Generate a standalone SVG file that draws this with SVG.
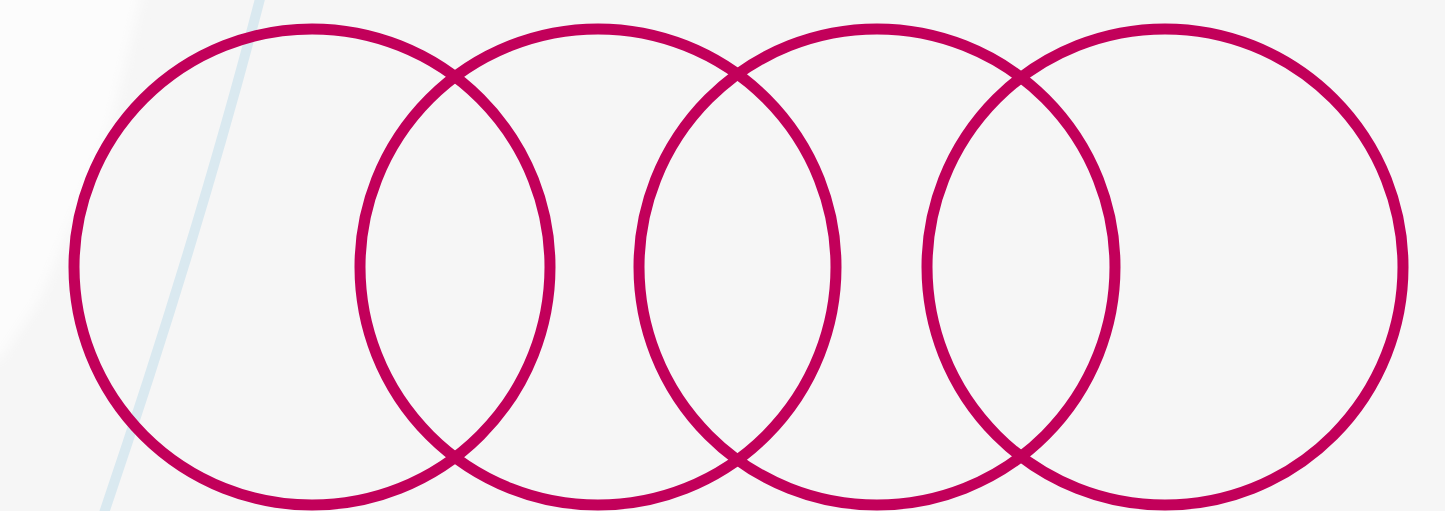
<svg xmlns="http://www.w3.org/2000/svg" width="1445" height="511" viewBox="0 0 1445 511">
<style>
.ring{fill:none;stroke:#c2005a;stroke-width:11}
</style>
<defs>
<filter id="blur" x="-50%" y="-50%" width="200%" height="200%"><feGaussianBlur stdDeviation="6"/></filter>
</defs>
<rect width="1445" height="511" fill="#f6f6f6"/>
<g id="bg">
<polygon points="-20,-20 145,-20 110,130 75,215 40,300 0,360 -20,360" fill="#fcfcfc" filter="url(#blur)"/>
<path d="M261,-5 Q200,230 103,516" fill="none" stroke="#dae9f0" stroke-width="10"/>
</g>
<g id="circle1"><circle class="ring" cx="312" cy="267" r="238"/></g>
<g id="circle2"><circle class="ring" cx="598" cy="267" r="238"/></g>
<g id="circle3"><circle class="ring" cx="877" cy="267" r="238"/></g>
<g id="circle4"><circle class="ring" cx="1165" cy="267" r="238"/></g>
</svg>
